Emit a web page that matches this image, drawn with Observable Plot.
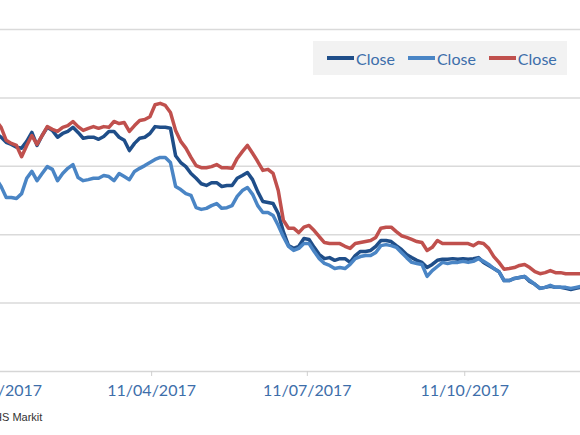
<!DOCTYPE html>
<html><head><meta charset="utf-8">
<script src="https://cdn.jsdelivr.net/npm/d3@7"></script>
<script src="https://cdn.jsdelivr.net/npm/@observablehq/plot@0.6"></script>
<style>
html,body{margin:0;padding:0;background:#fff;}
#wrap{position:relative;width:580px;height:435px;overflow:hidden;font-family:Lato,sans-serif;}
#chart{position:absolute;top:0;}
#chart svg{max-width:none !important;}
#legend{position:absolute;left:313px;top:41px;width:254px;height:34px;box-sizing:border-box;padding-left:14px;background:#f2f2f2;display:flex;align-items:center;gap:13px;font-size:16px;color:#3d6eaa;}
.item{display:flex;align-items:center;}
.sw{width:27px;height:3.5px;margin-right:2px;}
#caption{position:absolute;top:412px;font-family:"Liberation Sans",Arial,sans-serif;font-size:11px;line-height:11px;color:#333;white-space:nowrap;}
</style></head><body>
<div id="wrap"><div id="chart"></div><div id="legend"></div><div id="caption"></div></div>
<script>
const dates = ["2017-01-10","2017-01-13","2017-01-16","2017-01-19","2017-01-22","2017-01-25","2017-01-28","2017-01-31",
"2017-02-03","2017-02-06","2017-02-09","2017-02-12","2017-02-15","2017-02-18","2017-02-21","2017-02-24","2017-02-27",
"2017-03-02","2017-03-05","2017-03-08","2017-03-11","2017-03-14","2017-03-17","2017-03-20","2017-03-23","2017-03-26","2017-03-29",
"2017-04-01","2017-04-04","2017-04-07","2017-04-10","2017-04-13","2017-04-16","2017-04-19","2017-04-22","2017-04-25","2017-04-28",
"2017-05-01","2017-05-04","2017-05-07","2017-05-10","2017-05-13","2017-05-16","2017-05-19","2017-05-22","2017-05-25","2017-05-28","2017-05-31",
"2017-06-03","2017-06-06","2017-06-09","2017-06-12","2017-06-15","2017-06-18","2017-06-21","2017-06-24","2017-06-27","2017-06-30",
"2017-07-03","2017-07-06","2017-07-09","2017-07-12","2017-07-15","2017-07-18","2017-07-21","2017-07-24","2017-07-27","2017-07-30",
"2017-08-02","2017-08-05","2017-08-08","2017-08-11","2017-08-14","2017-08-17","2017-08-20","2017-08-23","2017-08-26","2017-08-29",
"2017-09-01","2017-09-04","2017-09-07","2017-09-10","2017-09-13","2017-09-16","2017-09-19","2017-09-22","2017-09-25","2017-09-28",
"2017-10-01","2017-10-04","2017-10-07","2017-10-10","2017-10-13","2017-10-16","2017-10-19","2017-10-22","2017-10-25","2017-10-28","2017-10-31",
"2017-11-03","2017-11-06","2017-11-09","2017-11-12","2017-11-15","2017-11-18","2017-11-21","2017-11-24","2017-11-27","2017-11-30",
"2017-12-03","2017-12-06","2017-12-09","2017-12-12","2017-12-15","2017-12-18","2017-12-21"];

const closeDark = [69.6,68.5,67.0,66.4,65.6,65.3,67.3,69.9,
66.1,69.0,71.4,70.5,68.5,69.6,70.2,71.4,69.9,
68.2,68.5,68.5,67.9,68.7,70.2,70.2,68.5,67.6,64.6,
66.7,68.2,68.5,69.6,71.6,71.4,71.4,71.1,63.1,61.1,
59.9,57.9,56.5,54.9,54.4,55.2,55.2,54.1,54.4,54.4,56.5,
57.3,58.2,56.1,52.6,49.7,49.4,49.1,46.2,40.9,36.8,
36.0,36.6,38.9,38.6,36.3,34.2,33.0,33.3,32.5,33.0,
33.0,31.9,33.9,35.1,35.1,35.4,36.6,38.3,38.3,38.0,
36.8,35.7,34.2,33.3,32.5,31.9,30.4,31.3,32.5,32.8,
32.8,33.0,32.8,33.0,32.8,33.0,33.3,31.9,31.0,30.1,29.2,
26.6,26.6,27.2,27.5,27.8,26.3,25.5,24.3,24.6,24.9,
24.6,24.6,24.3,24.0,24.3,24.6,24.6];

const closeLight = [56.5,54.1,50.9,50.9,50.6,52.0,56.5,58.5,
55.8,57.9,59.9,59.1,55.8,57.9,59.4,60.5,56.7,
55.8,56.1,56.5,56.5,57.3,57.0,55.8,57.9,57.0,56.1,
58.5,59.4,60.2,61.1,62.0,62.6,62.6,61.1,54.1,53.2,
52.0,51.5,47.9,47.4,47.7,48.5,49.1,47.7,47.9,48.5,51.2,
52.9,53.8,51.8,48.5,46.5,46.5,45.6,42.7,39.4,36.6,
35.4,36.0,37.4,37.4,35.1,33.0,31.6,31.0,30.1,30.4,
30.1,31.3,33.0,33.6,33.9,33.9,34.8,36.8,37.1,36.8,
36.3,34.8,33.3,31.9,31.6,31.3,27.8,29.5,30.7,31.9,
31.6,31.9,31.9,32.2,31.9,32.2,33.0,32.2,31.3,30.1,29.2,
26.6,26.6,27.2,27.5,27.8,26.6,25.5,24.3,24.6,25.2,
24.6,24.6,24.6,24.3,24.6,24.9,24.9];

const closeRed = [73.4,71.4,67.6,66.7,66.1,62.8,66.1,69.0,
66.4,69.0,71.6,70.8,70.2,71.4,71.9,73.1,71.6,
70.5,71.1,71.6,71.1,71.6,71.4,73.1,72.5,72.8,70.2,
71.9,73.4,73.7,74.5,78.0,78.4,77.8,75.7,70.5,67.3,
65.3,62.6,60.2,59.6,59.6,59.9,60.5,59.6,59.6,59.4,62.3,
64.3,66.1,63.8,61.4,58.8,59.1,57.9,52.9,44.2,41.9,
41.9,40.6,42.2,42.7,41.2,39.4,37.7,37.4,37.4,37.4,
36.6,36.0,37.4,37.7,38.0,38.3,39.2,41.9,42.2,42.2,
40.9,39.7,39.2,38.6,38.0,37.7,35.4,36.3,38.3,37.4,
37.4,37.4,37.4,37.4,37.4,36.8,37.7,37.4,36.0,33.6,31.9,
29.9,30.1,30.4,31.0,31.3,30.4,29.2,28.6,28.9,29.5,
28.9,28.9,28.6,28.6,28.6,28.6,28.9];

const seriesNames = ["Close", "Close", "Close"];
const seriesColors = ["#1f4e89", "#4a85c5", "#c0504d"];
const xTicks = ["2017-01-11", "2017-04-11", "2017-07-11", "2017-10-11"];
const yTicks = [20, 40, 60, 80, 100];
const xDomain = ["2016-12-01", "2018-01-31"];
const yDomain = [0, 108.48];
const sourceText = "Source: IHS Markit";

const pxPerDay = 1.711;
const d0 = new Date(xDomain[0]), d1 = new Date(xDomain[1]);
const plotWidth = (d1 - d0) / 864e5 * pxPerDay;
const leftOffset = -3 - (new Date(xTicks[0]) - d0) / 864e5 * pxPerDay;

const rows = dates.map((d, i) => ({date: new Date(d), dark: closeDark[i], light: closeLight[i], red: closeRed[i]}));

const chart = Plot.plot({
  width: plotWidth,
  height: 435,
  marginTop: 0, marginBottom: 64, marginLeft: 0, marginRight: 0,
  style: {fontFamily: "Lato, sans-serif", fontSize: "16px", background: "transparent", maxWidth: "none"},
  x: {type: "utc", domain: [d0, d1], label: null},
  y: {domain: yDomain, axis: null},
  marks: [
    Plot.gridY(yTicks, {stroke: "#dadada", strokeOpacity: 1, strokeWidth: 1.5}),
    Plot.ruleY([0], {stroke: "#d6d6d6", strokeWidth: 1.5}),
    Plot.axisX(xTicks.map(d => new Date(d)), {
      tickFormat: d3.utcFormat("%d/%m/%Y"), tickSize: 5, tickPadding: 8,
      stroke: "#cfcfcf", fill: "#3d6eaa", fontSize: 16, label: null
    }),
    Plot.lineY(rows, {x: "date", y: "dark", stroke: seriesColors[0], strokeWidth: 3.5}),
    Plot.lineY(rows, {x: "date", y: "light", stroke: seriesColors[1], strokeWidth: 3.5}),
    Plot.lineY(rows, {x: "date", y: "red", stroke: seriesColors[2], strokeWidth: 3.5})
  ]
});
const holder = document.getElementById("chart");
holder.style.left = leftOffset + "px";
holder.style.width = plotWidth + "px";
holder.appendChild(chart);

const legend = document.getElementById("legend");
seriesNames.forEach((n, i) => {
  const it = document.createElement("div");
  it.className = "item";
  const sw = document.createElement("span");
  sw.className = "sw";
  sw.style.background = seriesColors[i];
  const t = document.createElement("span");
  t.textContent = n;
  it.appendChild(sw); it.appendChild(t);
  legend.appendChild(it);
});

const cap = document.getElementById("caption");
const pre = document.createElement("span");
pre.textContent = sourceText.slice(0, sourceText.indexOf("IHS") + 2);
const rest = document.createElement("span");
rest.textContent = sourceText.slice(sourceText.indexOf("IHS") + 2);
cap.appendChild(pre); cap.appendChild(rest);
cap.style.left = (2 - pre.getBoundingClientRect().width) + "px";
</script>
</body></html>
